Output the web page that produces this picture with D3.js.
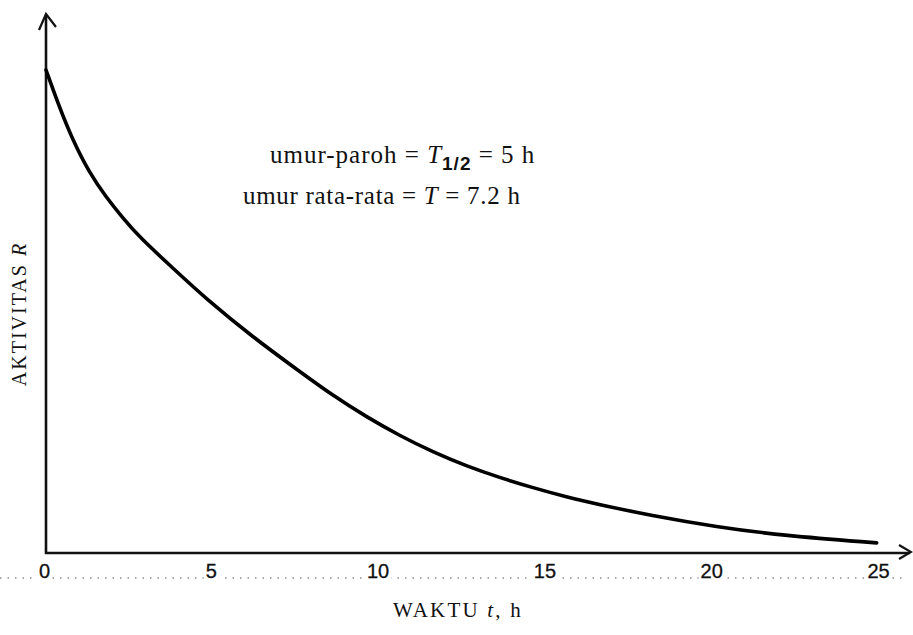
<!DOCTYPE html>
<html>
<head>
<meta charset="utf-8">
<script src="https://cdn.jsdelivr.net/npm/d3@7"></script>
<style>
  body { margin: 0; background: #fff; }
  svg { display: block; }
  .tick text { font-family: "Liberation Sans", Arial, sans-serif; }
</style>
</head>
<body>
<div id="chart"></div>
<script>
// decay curve (t in hours, activity in % of R at t=0)
const timeH = [0, 0.4, 0.8, 1.3, 1.8, 2.3, 2.8, 3.8, 4.8, 6.2, 7.6, 8.6, 9.6, 10.6,
  11.6, 12.6, 13.6, 14.6, 15.6, 16.6, 18.1, 20.1, 22.1, 24.9];
const activity = [100, 92.3, 85.5, 78.7, 73.7, 69.4, 65.4, 59.0, 52.6, 44.7, 37.6, 32.6,
  28.2, 24.3, 20.9, 18.0, 15.6, 13.5, 11.6, 10.0, 7.8, 5.4, 3.6, 2.1];
const xTicks = [0, 5, 10, 15, 20, 25];

const width = 913;
const height = 635;

var svg = d3.select("#chart").append("svg")
    .attr("width", width)
    .attr("height", height);

var x = d3.scaleLinear().domain([0, 25]).range([46, 880]);
var y = d3.scaleLinear().domain([0, 100]).range([553, 70]);

// dotted guide line running through the tick labels
svg.append("line")
    .attr("x1", 0).attr("x2", 905)
    .attr("y1", 578).attr("y2", 578)
    .attr("stroke", "#555")
    .attr("stroke-width", 1)
    .attr("stroke-dasharray", "1.5,6");

// tick labels (no tick marks, no domain)
var xAxis = d3.axisBottom(x).tickValues(xTicks).tickSize(0).tickPadding(0);
var gx = svg.append("g")
    .attr("transform", "translate(-2,564)")
    .call(xAxis);
gx.select(".domain").remove();
gx.selectAll("text")
    .attr("dy", "0.71em")
    .style("font-size", "20px")
    .attr("fill", "#111")
    .attr("stroke", "#111")
    .attr("stroke-width", 0.3)
    .each(function() {
      // white patch so the dotted line is broken behind the digits
      var bb = this.getBBox();
      d3.select(this.parentNode).insert("rect", "text")
        .attr("x", bb.x - 2).attr("y", bb.y + 2)
        .attr("width", bb.width + 4).attr("height", bb.height - 4)
        .attr("fill", "#fff");
    });

// axes with open arrowheads
var axisColor = "#111";
svg.append("line")
    .attr("x1", x(0)).attr("x2", x(0))
    .attr("y1", y(0) + 1).attr("y2", 15)
    .attr("stroke", axisColor).attr("stroke-width", 2.6);
svg.append("path")
    .attr("d", "M39,30 L46,14 L56,27")
    .attr("fill", "none").attr("stroke", axisColor).attr("stroke-width", 2.2);

svg.append("line")
    .attr("x1", x(0) - 1).attr("x2", 910)
    .attr("y1", y(0)).attr("y2", y(0))
    .attr("stroke", axisColor).attr("stroke-width", 2.6);
svg.append("path")
    .attr("d", "M899,545 L911,552 L899,559")
    .attr("fill", "none").attr("stroke", axisColor).attr("stroke-width", 2.2);

// decay curve
var line = d3.line()
    .x(function(d, i) { return x(timeH[i]); })
    .y(function(d) { return y(d); })
    .curve(d3.curveBasis);

svg.append("path")
    .datum(activity)
    .attr("d", line)
    .attr("fill", "none")
    .attr("stroke", "#000")
    .attr("stroke-width", 3.6)
    .attr("stroke-linecap", "round");

// annotation
var serif = "'Liberation Serif', 'Times New Roman', serif";
var note1 = svg.append("text")
    .attr("x", 270).attr("y", 163)
    .style("font-family", serif)
    .style("font-size", "25px")
    .style("letter-spacing", "1px")
    .attr("fill", "#111");
note1.append("tspan").text("umur-paroh = ");
note1.append("tspan").style("font-style", "italic").text("T");
note1.append("tspan")
    .attr("dy", 7)
    .style("font-family", "'Liberation Sans', Arial, sans-serif")
    .style("font-weight", "bold")
    .style("font-size", "19px")
    .text("1/2");
note1.append("tspan").attr("dy", -7).text(" = 5 h");

var note2 = svg.append("text")
    .attr("x", 243).attr("y", 204)
    .style("font-family", serif)
    .style("font-size", "25px")
    .style("letter-spacing", "0.7px")
    .attr("fill", "#111");
note2.append("tspan").text("umur rata-rata = ");
note2.append("tspan").style("font-style", "italic").text("T");
note2.append("tspan").text(" = 7.2 h");

// axis titles
var xTitle = svg.append("text")
    .attr("x", 393).attr("y", 617)
    .style("font-family", serif)
    .style("font-size", "21px")
    .style("letter-spacing", "2.2px")
    .attr("fill", "#111");
xTitle.append("tspan").text("WAKTU ");
xTitle.append("tspan").style("font-style", "italic").text("t");
xTitle.append("tspan").text(", h");

var yTitle = svg.append("text")
    .attr("transform", "translate(26,314) rotate(-90)")
    .attr("text-anchor", "middle")
    .style("font-family", serif)
    .style("font-size", "20px")
    .style("letter-spacing", "2px")
    .attr("fill", "#111");
yTitle.append("tspan").text("AKTIVITAS ");
yTitle.append("tspan").style("font-style", "italic").text("R");
</script>
</body>
</html>
